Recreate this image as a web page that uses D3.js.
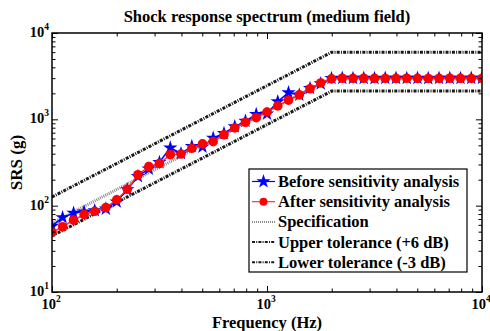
<!DOCTYPE html>
<html>
<head>
<meta charset="utf-8">
<script src="https://cdn.jsdelivr.net/npm/d3@7"></script>
<style>
  html, body { margin: 0; padding: 0; background: #fff; }
  svg { display: block; font-family: "Liberation Serif", "Times New Roman", serif; font-weight: bold; }
</style>
</head>
<body>
<svg id="chart" width="490" height="331"></svg>
<script>
// Analysis frequencies (Hz), 1/20-decade spacing
const freqs = [100, 112, 126, 141, 158, 178, 200, 224, 251, 282, 316, 355, 398, 447, 501,
  562, 631, 708, 794, 891, 1000, 1122, 1259, 1413, 1585, 1778, 1995, 2239, 2512, 2818,
  3162, 3548, 3981, 4467, 5012, 5623, 6310, 7079, 7943, 8913, 10000];

// SRS before sensitivity analysis (g)
const beforeSRS = [58, 73, 82, 85, 88, 92, 111, 154, 219, 267, 318, 468, 402, 488, 480,
  605, 690, 823, 953, 1140, 1160, 1604, 2037, 1919, 2293, 2590, 2993, 3010, 2995, 3005,
  2990, 3000, 3010, 2995, 3005, 2990, 3000, 3005, 2995, 3000, 2995];

// SRS after sensitivity analysis (g)
const afterSRS = [49, 57, 68, 79, 86, 95, 117, 155, 228, 283, 308, 390, 396, 462, 519,
  552, 662, 795, 925, 1045, 1215, 1430, 1665, 1919, 2260, 2640, 2940, 2990, 2985, 2990,
  2980, 2975, 2985, 2990, 2980, 2975, 2985, 2990, 2980, 2975, 2985];

// Specification breakpoints and tolerance bands
const specFreqs = [100, 2000, 10000];
const specVals = [63, 3000, 3000];
const upperVals = [126, 6000, 6000];   // +6 dB
const lowerVals = [44.6, 2124, 2124];  // -3 dB

const xTickVals = [100, 1000, 10000];
const yTickVals = [10, 100, 1000, 10000];

const svg = d3.select("#chart");
const L = 52, R = 482, T = 33, B = 292;

const x = d3.scaleLog().domain([100, 10000]).range([L, R]);
const y = d3.scaleLog().domain([10, 10000]).range([B, T]);

const pts = (xs, ys) => xs.map((f, i) => [f, ys[i]]);
const line = d3.line().x(d => x(d[0])).y(d => y(d[1]));

const clipId = "plotclip";
svg.append("clipPath").attr("id", clipId)
  .append("rect").attr("x", L).attr("y", T).attr("width", R - L).attr("height", B - T);

const plot = svg.append("g").attr("clip-path", `url(#${clipId})`);

// Tolerance bands
const tolStyle = g => g.attr("fill", "none").attr("stroke", "#1a1a1a")
  .attr("stroke-width", 3).attr("stroke-dasharray", "3,1.2,1,1.2");
plot.append("path").datum(pts(specFreqs, upperVals)).attr("d", line).call(tolStyle);
plot.append("path").datum(pts(specFreqs, lowerVals)).attr("d", line).call(tolStyle);

// Specification
plot.append("path").datum(pts(specFreqs, specVals)).attr("d", line)
  .attr("fill", "none").attr("stroke", "#8a8a8a").attr("stroke-width", 3)
  .attr("stroke-dasharray", "1,1");

// Before sensitivity analysis
const star = d3.symbol().type(d3.symbolStar).size(64);
plot.append("path").datum(pts(freqs, beforeSRS)).attr("d", line)
  .attr("fill", "none").attr("stroke", "#0000ff").attr("stroke-width", 1.5);
plot.selectAll(".star").data(pts(freqs, beforeSRS)).join("path")
  .attr("class", "star")
  .attr("transform", d => `translate(${x(d[0])},${y(d[1])})`)
  .attr("d", star).attr("fill", "#0000ff");

// After sensitivity analysis
plot.append("path").datum(pts(freqs, afterSRS)).attr("d", line)
  .attr("fill", "none").attr("stroke", "#ff3030").attr("stroke-width", 1.5);
plot.selectAll(".dot").data(pts(freqs, afterSRS)).join("circle")
  .attr("class", "dot")
  .attr("cx", d => x(d[0])).attr("cy", d => y(d[1])).attr("r", 4.8)
  .attr("fill", "#ff0000");

// Inward ticks on all four sides (major + minor)
const minorX = [], minorY = [];
[100, 1000].forEach(d => { for (let m = 2; m <= 9; m++) minorX.push(d * m); });
[10, 100, 1000].forEach(d => { for (let m = 2; m <= 9; m++) minorY.push(d * m); });

function tickAxis(axisFn, scale, vals, size, tx, ty) {
  const ax = axisFn(scale).tickValues(vals).tickSizeInner(size).tickSizeOuter(0).tickFormat("");
  const g = svg.append("g").attr("transform", `translate(${tx},${ty})`).call(ax);
  g.select(".domain").remove();
  g.selectAll("line").attr("stroke", "#000").attr("stroke-width", 1);
}
tickAxis(d3.axisBottom, x, xTickVals, -6, 0, B);
tickAxis(d3.axisBottom, x, minorX, -3.5, 0, B);
tickAxis(d3.axisTop, x, xTickVals, -6, 0, T);
tickAxis(d3.axisTop, x, minorX, -3.5, 0, T);
tickAxis(d3.axisLeft, y, yTickVals, -6, L, 0);
tickAxis(d3.axisLeft, y, minorY, -3.5, L, 0);
tickAxis(d3.axisRight, y, yTickVals, -6, R, 0);
tickAxis(d3.axisRight, y, minorY, -3.5, R, 0);

// Frame
svg.append("rect").attr("x", L).attr("y", T).attr("width", R - L).attr("height", B - T)
  .attr("fill", "none").attr("stroke", "#000").attr("stroke-width", 1.5);

// Tick labels (10^n)
const exp = v => Math.round(Math.log10(v));
svg.selectAll(".xl").data(xTickVals).join("text")
  .attr("class", "xl").attr("x", d => x(d) - 1).attr("y", 309)
  .attr("text-anchor", "middle").attr("font-size", 14.5)
  .each(function (d) {
    const t = d3.select(this);
    t.append("tspan").text("10");
    t.append("tspan").attr("dy", -7).attr("font-size", 9.5).text(exp(d));
  });
svg.selectAll(".yl").data(yTickVals).join("text")
  .attr("class", "yl").attr("x", L - 3).attr("y", d => y(d) + 4)
  .attr("text-anchor", "end").attr("font-size", 14.5)
  .each(function (d) {
    const t = d3.select(this);
    t.append("tspan").text("10");
    t.append("tspan").attr("dy", -7).attr("font-size", 9.5).text(exp(d));
  });

// Title and axis titles
svg.append("text").attr("x", (L + R) / 2).attr("y", 22).attr("text-anchor", "middle")
  .attr("font-size", 16.5).text("Shock response spectrum (medium field)");
svg.append("text").attr("x", (L + R) / 2).attr("y", 328).attr("text-anchor", "middle")
  .attr("font-size", 16.5).text("Frequency (Hz)");
svg.append("text").attr("transform", `translate(22,${(T + B) / 2}) rotate(-90)`)
  .attr("text-anchor", "middle").attr("font-size", 17).text("SRS (g)");

// Legend
const legendItems = [
  { label: "Before sensitivity analysis", kind: "before" },
  { label: "After sensitivity analysis", kind: "after" },
  { label: "Specification", kind: "spec" },
  { label: "Upper tolerance (+6 dB)", kind: "tol" },
  { label: "Lower tolerance (-3 dB)", kind: "tol" }
];
const lg = svg.append("g");
const lx = 249, ly = 169, lw = 218, lh = 103;
lg.append("rect").attr("x", lx).attr("y", ly).attr("width", lw).attr("height", lh)
  .attr("fill", "#fff").attr("stroke", "#000").attr("stroke-width", 1.2);
legendItems.forEach((it, i) => {
  const cy = ly + 12.5 + i * 20.2;
  const x0 = lx + 3, x1 = lx + 26;
  const ln = lg.append("line").attr("x1", x0).attr("x2", x1).attr("y1", cy).attr("y2", cy);
  if (it.kind === "before") {
    ln.attr("stroke", "#0000ff").attr("stroke-width", 1.2);
    lg.append("path").attr("transform", `translate(${(x0 + x1) / 2},${cy})`)
      .attr("d", star).attr("fill", "#0000ff");
  } else if (it.kind === "after") {
    ln.attr("stroke", "#ff3030").attr("stroke-width", 1.2);
    lg.append("circle").attr("cx", (x0 + x1) / 2).attr("cy", cy).attr("r", 4).attr("fill", "#ff0000");
  } else if (it.kind === "spec") {
    ln.attr("stroke", "#8a8a8a").attr("stroke-width", 2).attr("stroke-dasharray", "1,1");
  } else {
    ln.attr("stroke", "#1a1a1a").attr("stroke-width", 2).attr("stroke-dasharray", "3,1.2,1,1.2");
  }
  lg.append("text").attr("x", lx + 29).attr("y", cy + 5.5).attr("font-size", 16.5).text(it.label);
});
</script>
</body>
</html>
